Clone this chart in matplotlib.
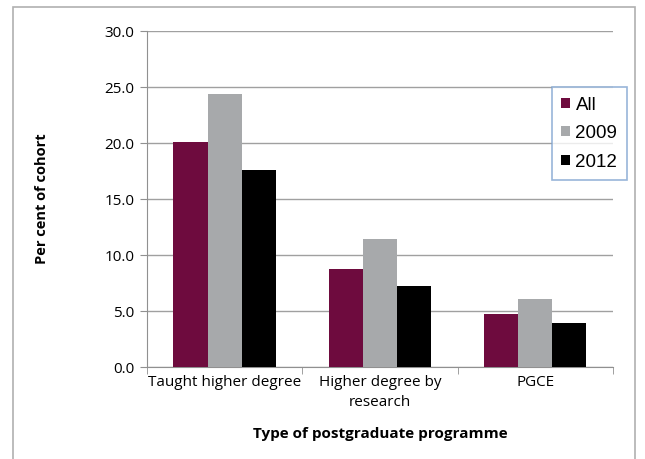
import numpy as np
import matplotlib
matplotlib.use('Agg')
import matplotlib.pyplot as plt
from matplotlib.patches import Rectangle

categories = ['Taught higher degree', 'Higher degree by\nresearch', 'PGCE']
series_names = ['All', '2009', '2012']
all_vals = [20.1, 8.75, 4.7]
vals_2009 = [24.4, 11.4, 6.1]
vals_2012 = [17.6, 7.2, 3.9]
yticks = [0, 5, 10, 15, 20, 25, 30]

colors = ['#6e0b3e', '#a7a9ab', '#000000']

plt.rcParams['font.family'] = ['Open Sans', 'DejaVu Sans']

fig = plt.figure(figsize=(6.45, 4.59), dpi=100, facecolor='white')
ax = fig.add_axes([0.228, 0.2004, 0.722, 0.732])

# outer frame of the figure
fig.patches.append(Rectangle((13/645, -0.01), 622/645, 1.01 - 7/459, transform=fig.transFigure,
                             fill=False, edgecolor='#b0b0b0', linewidth=1.2))

x = np.arange(len(categories))
w = 0.22
for i, (name, vals) in enumerate(zip(series_names, [all_vals, vals_2009, vals_2012])):
    ax.bar(x + (i - 1) * w, vals, width=w, color=colors[i], label=name, zorder=3)

ax.set_xlim(-0.5, 2.5)
ax.set_ylim(0, 30)
ax.set_yticks(yticks)
ax.set_yticklabels([f'{v:.1f}' for v in yticks], fontsize=11)
ax.set_xticks(x)
ax.set_xticklabels(categories, fontsize=11, linespacing=1.45)
ax.tick_params(axis='x', length=0, pad=6)
ax.tick_params(axis='y', length=5, color='#909090', pad=4)
ax.set_xticks([-0.5, 0.5, 1.5, 2.5], minor=True)
ax.tick_params(axis='x', which='minor', length=5, color='#909090')

ax.grid(axis='y', color='#a0a0a0', linewidth=1.0, zorder=0)
for s in ['top', 'right']:
    ax.spines[s].set_visible(False)
for s in ['left', 'bottom']:
    ax.spines[s].set_color('#909090')

ax.set_ylabel('Per cent of cohort', fontsize=10.5, fontweight='bold', labelpad=40)
ax.set_xlabel('Type of postgraduate programme', fontsize=11, fontweight='bold', labelpad=12)

leg = ax.legend(loc='upper right', bbox_to_anchor=(1.03, 0.833), frameon=True, fancybox=False,
                prop={'family': 'Liberation Sans', 'size': 13.5}, handlelength=0.45, handleheight=0.45,
                handletextpad=0.3, borderpad=0.5, labelspacing=0.62, borderaxespad=0)
leg.get_frame().set_edgecolor('#7fa3cf')
leg.get_frame().set_linewidth(1.2)

fig.savefig('out.png', dpi=100)
